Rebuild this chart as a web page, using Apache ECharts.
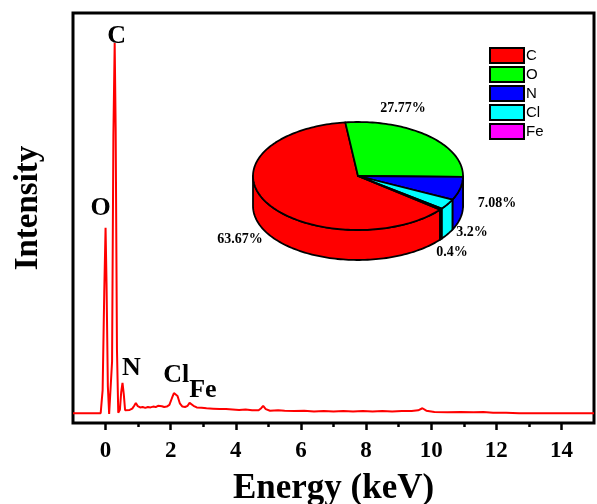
<!DOCTYPE html>
<html>
<head>
<meta charset="utf-8">
<script src="https://cdn.jsdelivr.net/npm/echarts@6/dist/echarts.min.js"></script>
<style>
  html, body { margin: 0; padding: 0; background: #fff; }
  #main { width: 597px; height: 504px; }
</style>
</head>
<body>
<div id="main"></div>
<script>
// EDS spectrum: [energy keV, intensity]
const spectrum = [
  [-1, 2.4], [-0.6, 2.4], [-0.3, 2.4], [-0.15, 2.4], [-0.09, 8], [-0.04, 32], [0, 47.6], [0.03, 34],
  [0.07, 9], [0.11, 2.2], [0.16, 2.3], [0.2, 15], [0.24, 70], [0.28, 92.7], [0.31, 72], [0.35, 18],
  [0.39, 2.5], [0.44, 3.2], [0.48, 7.5], [0.52, 9.8], [0.56, 7], [0.6, 3.1], [0.66, 2.9], [0.74, 3.2],
  [0.82, 3.5], [0.88, 4.2], [0.93, 4.9], [0.99, 4.1], [1.06, 3.8], [1.14, 3.9], [1.22, 3.7], [1.3, 3.9],
  [1.38, 3.8], [1.46, 4.0], [1.54, 3.9], [1.61, 4.2], [1.67, 4.6], [1.73, 4.1], [1.8, 3.9], [1.88, 4.0],
  [1.96, 4.4], [2.04, 6.1], [2.1, 7.3], [2.15, 7.6], [2.21, 6.6], [2.28, 4.8], [2.36, 4.0], [2.44, 3.9],
  [2.52, 4.2], [2.58, 4.9], [2.63, 5.1], [2.7, 4.2], [2.8, 3.8], [2.95, 3.7], [3.1, 3.6], [3.3, 3.5],
  [3.5, 3.4], [3.7, 3.4], [3.9, 3.3], [4.1, 3.2], [4.3, 3.3], [4.5, 3.1], [4.7, 3.1], [4.78, 3.6],
  [4.84, 4.2], [4.92, 3.4], [5.05, 3.0], [5.3, 3.1], [5.5, 3.0], [5.8, 2.9], [6.1, 3.0], [6.4, 2.8],
  [6.7, 2.9], [7.0, 2.8], [7.3, 2.9], [7.6, 2.8], [7.9, 2.9], [8.2, 2.8], [8.5, 2.9], [8.8, 2.8],
  [9.1, 2.9], [9.4, 2.9], [9.6, 3.1], [9.73, 3.6], [9.85, 3.0], [10.1, 2.7], [10.5, 2.6], [10.9, 2.7],
  [11.3, 2.6], [11.6, 2.7], [11.9, 2.5], [12.3, 2.5], [12.7, 2.4], [13.2, 2.4], [13.7, 2.4], [14.3, 2.4],
  [15, 2.4]
];

// peak annotations: [label, energy, intensity]
const peakLabels = [
  ['C', 0.34, 94.4], ['O', -0.15, 52.4], ['N', 0.79, 13.4], ['Cl', 2.17, 11.7], ['Fe', 2.99, 8.0]
];

const xMajorTicks = [0, 2, 4, 6, 8, 10, 12, 14];
const xMinorTicks = [1, 3, 5, 7, 9, 11, 13];

// inset pie
const elements = ['C', 'O', 'N', 'Cl', 'Fe'];
const percents = [63.67, 27.77, 7.08, 3.2, 0.4];
const pieLabels = ['63.67%', '27.77%', '7.08%', '3.2%', '0.4%'];
const pieColors = ['#ff0000', '#00ff00', '#0000ff', '#00ffff', '#ff00ff'];

// layout of the 3d pie inset (pixels)
const pie = { cx: 358, cy: 176, rx: 105, ry: 54, depth: 30, start: 38.6 };
const pieLabelPos = [[240, 239], [403, 108], [497, 203], [472, 232], [452, 252]];

const total = percents.reduce((a, b) => a + b, 0);
const angles = [];
let acc = pie.start;
percents.forEach(v => {
  const a0 = acc;
  acc += v / total * 360;
  angles.push([a0, acc]);
});

const rim = (deg, dy) => {
  const r = deg * Math.PI / 180;
  return [pie.cx + pie.rx * Math.cos(r), pie.cy + pie.ry * Math.sin(r) + (dy || 0)];
};

const arc = (a0, a1, dy) => {
  const pts = [];
  const n = Math.max(2, Math.ceil((a1 - a0) / 1.5));
  for (let k = 0; k <= n; k++) pts.push(rim(a0 + (a1 - a0) * k / n, dy));
  return pts;
};

const renderPie = (params, api) => {
  const i = params.dataIndex;
  const [a0, a1] = angles[i];
  const color = pieColors[i];
  const children = [];
  // front side walls (screen angles 0..180, also wrapped 360..540)
  [[0, 180], [360, 540]].forEach(([f0, f1]) => {
    const b0 = Math.max(a0, f0);
    const b1 = Math.min(a1, f1);
    if (b1 > b0) {
      const pts = arc(b0, b1, 0).concat(arc(b0, b1, pie.depth).reverse());
      children.push({
        type: 'polygon',
        shape: { points: pts },
        style: { fill: color, stroke: '#000', lineWidth: 1.8, lineJoin: 'round' }
      });
    }
  });
  const top = [[pie.cx, pie.cy]].concat(arc(a0, a1, 0));
  children.push({
    type: 'polygon',
    shape: { points: top },
    style: { fill: color, stroke: '#000', lineWidth: 1.8, lineJoin: 'round' }
  });
  return { type: 'group', children };
};

const serif = 'Liberation Serif';
const chart = echarts.init(document.getElementById('main'));

const option = {
  animation: false,
  backgroundColor: '#fff',
  grid: {
    left: 73, right: 3, top: 13, bottom: 81,
    containLabel: false, outerBoundsMode: 'none',
    show: true, borderColor: '#000', borderWidth: 3, backgroundColor: 'transparent'
  },
  legend: {
    orient: 'vertical',
    left: 484, top: 42,
    itemWidth: 34, itemHeight: 15, itemGap: 2,
    icon: 'rect',
    itemStyle: { borderColor: '#000', borderWidth: 2, opacity: 1 },
    textStyle: { fontFamily: 'Liberation Sans', fontSize: 15, color: '#000', padding: [0, 0, 0, -3] },
    data: elements
  },
  xAxis: [
    {
      type: 'value', min: -1, max: 15,
      name: 'Energy (keV)', nameLocation: 'middle', nameGap: 48,
      nameTextStyle: { fontFamily: serif, fontWeight: 'bold', fontSize: 35, color: '#000' },
      axisLine: { show: false },
      axisTick: { show: true, customValues: xMajorTicks, length: 7, lineStyle: { color: '#000', width: 2.5 } },
      axisLabel: {
        customValues: xMajorTicks, margin: 17,
        fontFamily: serif, fontWeight: 'bold', fontSize: 23, color: '#000'
      },
      splitLine: { show: false }
    },
    {
      type: 'value', min: -1, max: 15, position: 'bottom',
      axisLine: { show: false },
      axisTick: { show: true, customValues: xMinorTicks, length: 4, lineStyle: { color: '#000', width: 2.5 } },
      axisLabel: { show: false },
      splitLine: { show: false }
    }
  ],
  yAxis: {
    type: 'value', min: 0, max: 100,
    name: 'Intensity', nameLocation: 'middle', nameGap: 28,
    nameTextStyle: { fontFamily: serif, fontWeight: 'bold', fontSize: 33, color: '#000', padding: [0, 0, 0, 20] },
    axisLine: { show: false }, axisTick: { show: false }, axisLabel: { show: false },
    splitLine: { show: false }
  },
  graphic: pieLabels.map((t, i) => ({
    type: 'text',
    x: pieLabelPos[i][0], y: pieLabelPos[i][1],
    z: 10,
    style: {
      text: t, fill: '#000', font: 'bold 14px "Liberation Serif"',
      align: 'center', verticalAlign: 'middle'
    }
  })),
  series: [
    {
      type: 'line',
      data: spectrum,
      showSymbol: false,
      lineStyle: { color: '#ff0000', width: 2 },
      z: 3
    },
    {
      type: 'scatter',
      data: peakLabels.map(p => ({ name: p[0], value: [p[1], p[2]] })),
      symbolSize: 0,
      itemStyle: { opacity: 1 },
      label: {
        show: true, position: 'inside', formatter: '{b}',
        fontFamily: serif, fontWeight: 'bold', fontSize: 26, color: '#000'
      },
      z: 4
    },
    {
      type: 'custom',
      coordinateSystem: 'none',
      data: percents.map((v, i) => ({ name: elements[i], value: v })),
      renderItem: renderPie,
      z: 5
    },
    ...elements.map((e, i) => ({
      type: 'scatter', name: e, data: [], itemStyle: { color: pieColors[i], opacity: 1 }
    }))
  ]
};

chart.setOption(option);
</script>
</body>
</html>
